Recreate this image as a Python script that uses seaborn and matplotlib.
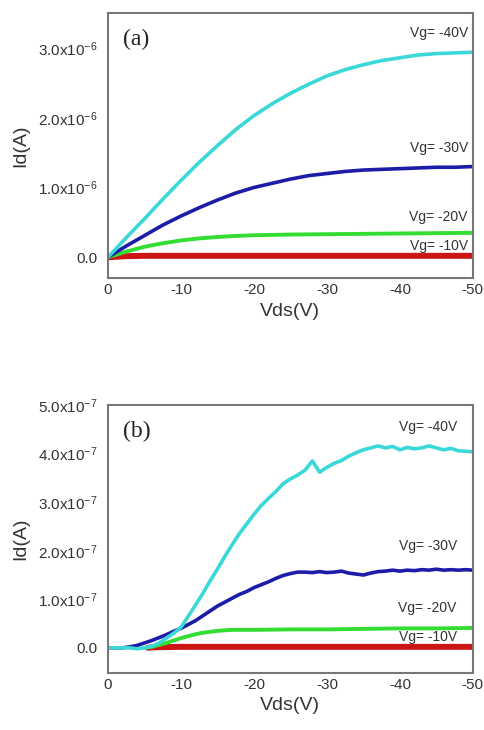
import pandas as pd
import matplotlib
matplotlib.use("Agg")
import matplotlib.pyplot as plt
from matplotlib.ticker import MultipleLocator, FixedLocator, FixedFormatter
import seaborn as sns

# ---- panel (a): Id in units of 1e-6 A ----
a_cyan_x = [0, -2.5, -5, -7.5, -10, -12.5, -15, -17.5, -20, -22.5, -25, -27.5, -30, -32.5, -35, -37.5, -40, -42.5, -45, -47.5, -50]
a_cyan_y = [0, 0.28, 0.55, 0.83, 1.1, 1.36, 1.6, 1.83, 2.03, 2.2, 2.35, 2.48, 2.6, 2.69, 2.76, 2.82, 2.86, 2.9, 2.92, 2.93, 2.94]
a_blue_x = a_cyan_x
a_blue_y = [0, 0.16, 0.31, 0.46, 0.59, 0.71, 0.82, 0.92, 1.0, 1.06, 1.12, 1.17, 1.2, 1.23, 1.25, 1.26, 1.27, 1.28, 1.29, 1.29, 1.3]
a_green_x = [0, -2.5, -5, -7.5, -10, -12.5, -15, -17.5, -20, -25, -30, -35, -40, -45, -50]
a_green_y = [0, 0.08, 0.15, 0.2, 0.24, 0.27, 0.29, 0.305, 0.315, 0.325, 0.33, 0.335, 0.34, 0.345, 0.35]
a_red_x = [0, -2.5, -5, -50]
a_red_y = [0, 0.015, 0.02, 0.02]

# ---- panel (b): Id in units of 1e-7 A ----
b_x = list(range(0, -51, -1))
b_cyan_y = [0, 0, 0, 0, -0.02, 0, 0.03, 0.1, 0.2, 0.3, 0.42, 0.65, 0.88, 1.12, 1.38, 1.62, 1.88, 2.12, 2.35, 2.55,
            2.75, 2.93, 3.08, 3.22, 3.38, 3.48, 3.56, 3.66, 3.85, 3.62, 3.72, 3.8, 3.86, 3.95, 4.02, 4.08, 4.12, 4.16,
            4.12, 4.15, 4.08, 4.13, 4.1, 4.12, 4.16, 4.12, 4.08, 4.11, 4.06, 4.05, 4.04]
b_blue_y = [0, 0, 0, 0.02, 0.05, 0.1, 0.15, 0.21, 0.27, 0.34, 0.4, 0.48, 0.56, 0.66, 0.76, 0.86, 0.94, 1.02, 1.1, 1.16,
            1.24, 1.3, 1.36, 1.43, 1.49, 1.53, 1.56, 1.56, 1.55, 1.57, 1.55, 1.56, 1.58, 1.54, 1.52, 1.5, 1.54, 1.57,
            1.58, 1.6, 1.58, 1.6, 1.59, 1.61, 1.6, 1.62, 1.6, 1.61, 1.6, 1.61, 1.6]
b_green_x = [-5, -6, -7, -8, -9, -10, -11, -12, -13, -14, -15, -16, -17, -20, -25, -30, -35, -40, -45, -50]
b_green_y = [0, 0.02, 0.06, 0.1, 0.15, 0.2, 0.24, 0.28, 0.31, 0.33, 0.35, 0.36, 0.37, 0.37, 0.38, 0.38, 0.39, 0.4, 0.4, 0.41]
b_red_x = [-5.5, -6, -10, -50]
b_red_y = [0, 0.01, 0.02, 0.02]

labels = ["Vg= -40V", "Vg= -30V", "Vg= -20V", "Vg= -10V"]
a_label_y = [3.21, 1.57, 0.57, 0.16]
b_label_y = [4.55, 2.1, 0.83, 0.23]

colors = ["#3ad8d8", "#1c1ca8", "#33dd33", "#cc1515"]
widths = [2.6, 2.6, 2.8, 4.3]

sns.set_style("white")
plt.rcParams["font.family"] = ["Liberation Sans", "DejaVu Sans"]
plt.rcParams["mathtext.fontset"] = "custom"
plt.rcParams["mathtext.rm"] = "Liberation Sans"

fig = plt.figure(figsize=(4.84, 7.30), dpi=100)
ax1 = fig.add_axes([0.223, 0.619, 0.754, 0.363])
ax2 = fig.add_axes([0.223, 0.078, 0.754, 0.367])


def draw(ax, series, ylim, yticks, ylabels, minor, lab_y, lab_x, tag):
    # draw red first so the cyan curve ends up on top, like the original
    for (xs, ys), c, w in reversed(list(zip(series, colors, widths))):
        df = pd.DataFrame({"Vds": xs, "Id": ys})
        sns.lineplot(data=df, x="Vds", y="Id", ax=ax, color=c, linewidth=w)
    ax.set_xlim(0, -50)
    ax.set_ylim(*ylim)
    ax.xaxis.set_major_locator(FixedLocator([0, -10, -20, -30, -40, -50]))
    ax.xaxis.set_major_formatter(FixedFormatter(["0", "-10", "-20", "-30", "-40", "-50"]))
    ax.xaxis.set_minor_locator(FixedLocator([-5, -15, -25, -35, -45]))
    ax.yaxis.set_major_locator(FixedLocator(yticks))
    ax.yaxis.set_major_formatter(FixedFormatter(ylabels))
    ax.yaxis.set_minor_locator(MultipleLocator(minor))
    ax.tick_params(axis="both", which="major", direction="in", length=5, width=1, color="#666666",
                   labelsize=11, labelcolor="#333333")
    ax.tick_params(axis="both", which="minor", direction="in", length=3, width=1, color="#666666")
    ax.tick_params(axis="y", which="major", direction="out", length=4)
    for s in ax.spines.values():
        s.set_color("#777777")
        s.set_linewidth(1.5)
    ax.set_xlabel("Vds(V)", fontsize=14, color="#333333", labelpad=4)
    ax.set_ylabel("Id(A)", fontsize=14, color="#333333", labelpad=6)
    for t, y in zip(labels, lab_y):
        ax.text(lab_x, y, t, ha="right", va="center", fontsize=10, color="#333333")
    ax.text(0.04, 0.94, tag, transform=ax.transAxes, ha="left", va="top",
            fontsize=17, family="Liberation Serif", color="#222222")


draw(ax1,
     [(a_cyan_x, a_cyan_y), (a_blue_x, a_blue_y), (a_green_x, a_green_y), (a_red_x, a_red_y)],
     (-0.3, 3.5), [0, 1, 2, 3],
     ["0.0", r"$\mathregular{1.0x10^{-6}}$", r"$\mathregular{2.0x10^{-6}}$", r"$\mathregular{3.0x10^{-6}}$"],
     0.5, a_label_y, -49.3, "(a)")

draw(ax2,
     [(b_x, b_cyan_y), (b_x, b_blue_y), (b_green_x, b_green_y), (b_red_x, b_red_y)],
     (-0.52, 5.0), [0, 1, 2, 3, 4, 5],
     ["0.0"] + [r"$\mathregular{%d.0x10^{-7}}$" % i for i in range(1, 6)],
     0.5, b_label_y, -47.8, "(b)")

fig.savefig("out.png", dpi=100)
